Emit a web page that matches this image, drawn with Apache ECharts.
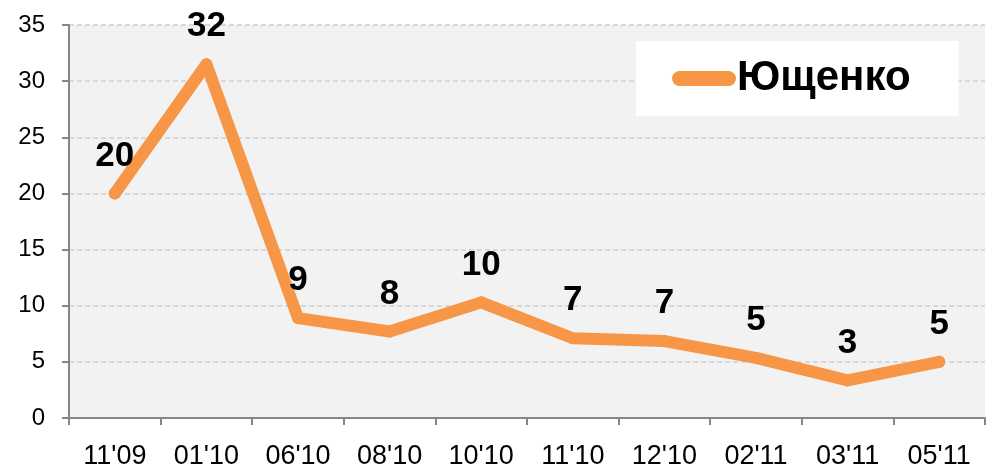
<!DOCTYPE html>
<html>
<head>
<meta charset="utf-8">
<script src="https://cdn.jsdelivr.net/npm/echarts@6/dist/echarts.min.js"></script>
<style>
html,body{margin:0;padding:0;background:#fff;}
#c{width:991px;height:472px;}
</style>
</head>
<body>
<div id="c"></div>
<script>
const categories = ["11'09","01'10","06'10","08'10","10'10","11'10","12'10","02'11","03'11","05'11"];
const values = [20, 31.5, 8.9, 7.7, 10.3, 7.1, 6.85, 5.35, 3.35, 5.0];
const seriesName = "Ющенко";
const yTicks = { min: 0, max: 35, interval: 5 };

const FONT = "'Liberation Sans', Arial, sans-serif";
const chart = echarts.init(document.getElementById('c'), null, { renderer: 'canvas' });
chart.setOption({
  animation: false,
  backgroundColor: '#ffffff',
  grid: {
    left: 69, right: 6, top: 25, bottom: 54,
    show: true, backgroundColor: '#F2F2F2', borderWidth: 0
  },
  legend: {
    left: 636, top: 41,
    padding: [16, 48, 16, 36],
    backgroundColor: '#ffffff',
    itemWidth: 64, itemHeight: 15,
    icon: 'path://M7.5,0 H56.5 A7.5,7.5 0 0 1 56.5,15 H7.5 A7.5,7.5 0 0 1 7.5,0 Z',
    textStyle: { fontFamily: FONT, fontSize: 42, fontWeight: 'bold', color: '#000', lineHeight: 43, padding: [0, 0, 0, -4] },
    data: [{ name: seriesName, itemStyle: { color: '#F79646' } }]
  },
  xAxis: {
    type: 'category',
    data: categories,
    boundaryGap: true,
    axisLine: { show: true, lineStyle: { color: '#868686', width: 2 } },
    axisTick: { show: true, length: 7, alignWithLabel: false, lineStyle: { color: '#868686', width: 2 } },
    axisLabel: { margin: 25, fontFamily: FONT, fontSize: 27, color: '#000' },
    splitLine: { show: false }
  },
  yAxis: {
    type: 'value',
    min: yTicks.min, max: yTicks.max, interval: yTicks.interval,
    axisLine: { show: true, lineStyle: { color: '#868686', width: 2 } },
    axisTick: { show: true, length: 7, lineStyle: { color: '#868686', width: 2 } },
    axisLabel: { margin: 24, fontFamily: FONT, fontSize: 24, color: '#000' },
    splitLine: { show: true, lineStyle: { color: '#D0D0D0', width: 1.5, type: [5, 3] } }
  },
  series: [{
    name: seriesName,
    type: 'line',
    data: values,
    symbol: 'circle',
    symbolSize: 12,
    itemStyle: { color: '#F79646' },
    lineStyle: { color: '#F79646', width: 12, cap: 'round', join: 'round' },
    label: {
      show: true, position: 'top', distance: 14,
      fontFamily: FONT, fontSize: 35, fontWeight: 'bold', color: '#000', lineHeight: 35,
      formatter: p => String(Math.round(p.value))
    }
  }]
});
</script>
</body>
</html>
